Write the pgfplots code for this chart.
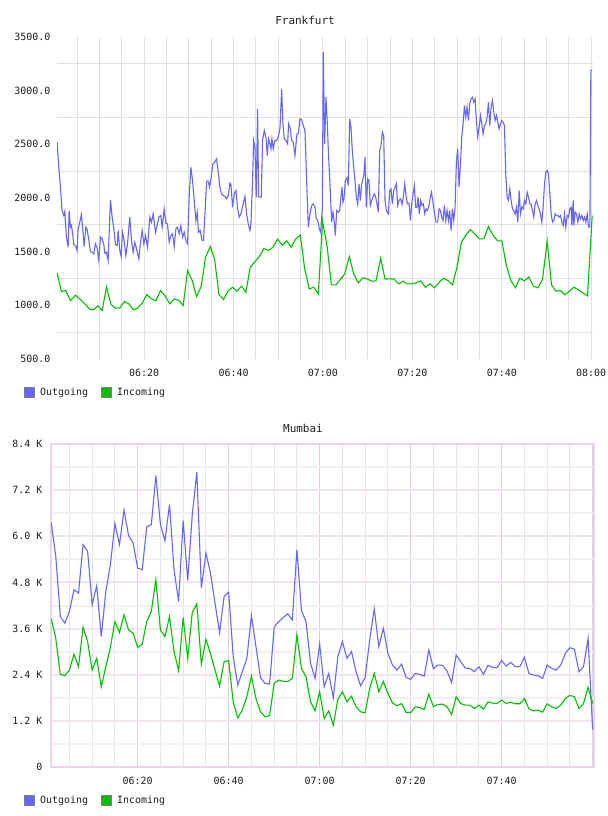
\documentclass[border=0pt]{standalone}
\usepackage{pgfplots}
\pgfplotsset{compat=1.18}
\usepackage{fontspec}
\setmainfont{DejaVu Sans Mono}
\definecolor{outc}{RGB}{102,102,255}
\definecolor{inc}{RGB}{0,192,0}
\definecolor{fgrid}{RGB}{224,224,224}
\definecolor{mframe}{RGB}{232,214,232}
\definecolor{mmajorh}{RGB}{240,228,240}
\definecolor{mmajorv}{RGB}{226,204,226}
\definecolor{mminorh}{RGB}{243,240,243}
\definecolor{mminorv}{RGB}{234,226,234}
\definecolor{txt}{RGB}{30,30,30}
\pgfplotsset{
  common/.style={
    scale only axis,
    tick style={draw=none},
    major tick length=0pt, minor tick length=0pt,
    ticklabel style={font=\fontsize{10}{12}\selectfont, text=txt},
    xticklabel style={anchor=center, yshift=-14bp},
    yticklabel style={anchor=east},
    legend style={draw=none, fill=none, legend columns=2, inner sep=0pt,
      font=\fontsize{10}{12}\selectfont, text=txt,
      /tikz/every even column/.append style={column sep=11bp}},
    legend image code/.code={\draw[draw=gray, fill, line width=0.8bp] (0bp,-5bp) rectangle (10bp,5bp); \path (13bp,0bp);},
    clip=true,
  }
}
\begin{document}
\begin{tikzpicture}
\useasboundingbox (0,0) rectangle (608bp,-816bp);
% ---------------- Frankfurt ----------------
\begin{axis}[common,
  at={(57bp,-37bp)}, anchor=north west,
  width=536bp, height=322bp,
  xmin=0.5, xmax=120.4, ymin=500, ymax=3500,
  axis line style={draw=none},
  xtick={20,40,60,80,100,120},
  xticklabels={06:20,06:40,07:00,07:20,07:40,08:00},
  minor xtick={5,10,...,120},
  ytick={500,1000,...,3500},
  yticklabels={500.0,1000.0,1500.0,2000.0,2500.0,3000.0,3500.0},
  minor ytick={750,1250,...,3250},
  xmajorgrids, xminorgrids, yminorgrids,
  major grid style={draw=fgrid, line width=1bp},
  minor grid style={draw=fgrid, line width=1bp},
  yticklabel style={xshift=-3bp},
  title={Frankfurt},
  every axis title/.style={at={(axis description cs:0.4627,1.0528)}, anchor=center, font=\fontsize{11}{13}\selectfont, text=txt},
  legend style={at={(axis description cs:-0.0616,-0.1025)}, anchor=west},
]
\addplot[outc, line width=1.1bp] coordinates {
(0.52,2526)(0.90,2287)(1.27,2101)(1.64,1883)(2.01,1837)(2.24,1874)(2.61,1635)(2.99,1542)(3.21,1883)(3.51,1728)
(3.73,1743)(3.96,1681)(4.25,1567)(4.63,1557)(5.00,1511)(5.22,1712)(5.60,1775)(5.97,1846)(6.34,1666)(6.57,1548)
(6.94,1728)(7.24,1706)(7.69,1588)(7.99,1501)(8.36,1495)(8.73,1480)(9.10,1573)(9.48,1535)(9.85,1417)(10.22,1635)
(10.60,1619)(10.97,1567)(11.19,1486)(11.57,1495)(11.94,1417)(12.46,1983)(12.84,1821)(13.21,1712)(13.58,1567)(13.96,1557)
(14.18,1697)(14.55,1511)(14.85,1455)(15.15,1681)(15.52,1604)(15.90,1464)(16.27,1573)(16.79,1821)(17.16,1604)(17.54,1495)
(17.91,1588)(18.28,1526)(18.81,1433)(19.18,1588)(19.55,1697)(19.93,1573)(20.30,1650)(20.75,1542)(21.27,1821)(21.64,1775)
(22.01,1852)(22.54,1681)(22.91,1743)(23.28,1821)(23.73,1837)(24.03,1728)(24.48,1899)(24.85,1765)(25.22,1759)(25.60,1588)
(25.97,1650)(26.34,1666)(26.72,1548)(27.09,1712)(27.46,1728)(27.84,1666)(28.21,1743)(28.58,1635)(28.96,1681)(29.33,1604)
(29.70,1573)(30.07,2008)(30.45,2287)(30.82,2163)(31.19,1977)(31.57,1790)(31.87,1868)(32.16,1681)(32.54,1697)(32.91,1610)
(33.28,1604)(33.66,1899)(33.96,2157)(34.33,2157)(34.63,2101)(35.00,2194)(35.37,2318)(35.75,2334)(36.19,2365)(36.57,2241)
(36.94,2101)(37.31,2039)(37.69,2023)(38.06,2014)(38.43,1992)(38.81,2023)(39.18,2138)(39.40,2126)(39.78,1914)(40.15,2039)
(40.52,2070)(40.90,1899)(41.27,1821)(41.64,1852)(42.01,1921)(42.54,2014)(42.91,1852)(43.28,1759)(43.66,1697)(43.88,1759)
(44.25,2163)(44.48,2536)(44.78,2474)(45.07,2008)(45.37,2831)(45.60,2008)(45.90,2008)(46.19,2008)(46.49,2536)(46.87,2629)
(47.24,2567)(47.54,2396)(47.84,2551)(48.13,2505)(48.36,2458)(48.58,2551)(48.88,2458)(49.25,2536)(49.63,2536)(50.00,2567)
(50.37,2644)(50.75,3017)(51.04,2691)(51.34,2551)(51.72,2536)(52.09,2505)(52.31,2691)(52.69,2644)(52.99,2536)(53.36,2520)
(53.73,2396)(54.18,2598)(54.48,2598)(54.85,2737)(55.22,2731)(55.60,2675)(55.97,2629)(56.34,2163)(56.72,1728)(57.09,1852)
(57.46,1930)(57.84,1945)(58.21,1914)(58.51,1806)(58.81,1796)(59.18,1712)(59.48,1681)(59.85,1900)(60.07,3359)(60.37,2505)
(60.67,2939)(60.97,2691)(61.26,2380)(61.56,2132)(61.94,1775)(62.24,1868)(62.53,1775)(62.76,1650)(63.06,1883)(63.43,1868)
(63.73,1883)(64.03,2008)(64.25,2101)(64.47,1961)(64.70,1992)(65.00,2163)(65.37,2188)(65.67,2116)(65.97,2737)(66.26,2660)
(66.56,2442)(66.86,2287)(67.16,2163)(67.46,2008)(67.76,1945)(68.06,2132)(68.35,1977)(68.65,2132)(68.88,2163)(69.18,2225)
(69.40,2380)(69.70,1914)(70.00,2178)(70.29,2163)(70.59,1930)(70.89,1977)(71.19,2008)(71.49,2039)(71.79,2008)(72.09,1945)
(72.38,1868)(72.68,2442)(72.98,2489)(73.28,2613)(73.58,2582)(73.88,1977)(74.18,1883)(74.62,1852)(74.92,2070)(75.22,2085)
(75.52,1945)(75.82,2070)(76.12,2101)(76.41,2132)(76.71,1930)(77.01,1977)(77.38,1992)(77.68,1939)(77.98,2008)(78.28,2132)
(78.58,2023)(78.88,1945)(79.25,1952)(79.55,1790)(79.85,1945)(80.15,2039)(80.44,2116)(80.74,1914)(81.04,1914)(81.26,2008)
(81.56,1852)(81.86,1977)(82.16,1930)(82.46,1945)(82.76,1852)(83.06,1899)(83.35,1883)(83.65,1914)(83.95,1992)(84.25,2054)
(84.55,1977)(84.85,1883)(85.29,1775)(85.67,1775)(85.97,1899)(86.27,1883)(86.56,1821)(86.86,1790)(87.16,1930)(87.46,1790)
(87.76,1883)(88.06,1790)(88.35,1883)(88.65,1697)(88.95,1899)(89.25,1790)(89.55,1914)(89.85,2349)(90.15,2458)(90.44,2101)
(90.74,2303)(91.04,2567)(91.34,2691)(91.64,2862)(91.94,2753)(92.24,2846)(92.53,2722)(92.83,2877)(93.13,2924)(93.43,2939)
(93.73,2893)(94.03,2924)(94.32,2722)(94.62,2567)(94.92,2660)(95.22,2769)(95.52,2691)(95.82,2598)(96.12,2675)(96.41,2691)
(96.71,2753)(97.01,2893)(97.31,2675)(97.61,2846)(97.91,2908)(98.21,2800)(98.50,2722)(98.80,2769)(99.10,2706)(99.40,2644)
(99.70,2691)(100.00,2722)(100.29,2706)(100.59,2675)(100.89,2225)(101.19,2008)(101.49,1977)(101.79,2085)(102.09,1977)(102.38,1899)
(102.68,1883)(102.98,1852)(103.28,1914)(103.58,1775)(103.88,2070)(104.18,1852)(104.47,1914)(104.77,1899)(105.07,1977)(105.37,1945)
(105.67,2054)(105.97,2008)(106.26,1945)(106.56,1945)(106.86,1883)(107.16,1821)(107.46,1945)(107.76,1977)(108.06,1930)(108.35,1899)
(108.65,1852)(108.95,1775)(109.25,1914)(109.55,2132)(109.85,2241)(110.15,2256)(110.44,2225)(110.74,2039)(111.04,1852)(111.34,1775)
(111.64,1790)(111.94,1852)(112.24,1837)(112.53,1837)(112.83,1821)(113.13,1837)(113.43,1775)(113.73,1743)(114.03,1852)(114.32,1728)
(114.62,1837)(114.92,1821)(115.22,1899)(115.52,1914)(115.67,1743)(115.97,1977)(116.12,1743)(116.41,1868)(116.71,1852)(117.01,1775)
(117.31,1852)(117.61,1806)(117.91,1837)(118.20,1790)(118.50,1821)(118.80,1775)(119.10,1852)(119.40,1728)(119.70,1728)(119.92,3188)
(120.22,3194)
};
\addlegendentry{Outgoing}
\addplot[inc, line width=1.1bp] coordinates {
(0.52,1303)(1.49,1129)(2.46,1138)(3.51,1045)(4.63,1094)(5.60,1060)(6.72,1014)(7.84,964)(8.66,958)(9.63,995)
(10.60,952)(11.57,1169)(12.61,1007)(13.58,973)(14.55,976)(15.60,1035)(16.57,1014)(17.61,958)(18.51,973)(19.55,1020)
(20.60,1101)(21.64,1060)(22.61,1042)(23.66,1138)(24.63,1091)(25.75,1014)(26.72,1060)(27.76,1045)(28.73,998)(29.70,1324)
(30.75,1231)(31.72,1082)(32.76,1175)(33.73,1449)(34.78,1548)(35.75,1433)(36.72,1101)(37.76,1054)(38.73,1132)(39.78,1169)
(40.75,1132)(41.79,1178)(42.76,1122)(43.73,1355)(44.78,1408)(45.75,1455)(46.79,1529)(47.84,1511)(48.81,1542)(49.85,1616)
(50.90,1560)(51.87,1601)(52.91,1542)(53.88,1616)(54.93,1654)(55.90,1340)(56.94,1153)(57.91,1169)(58.96,1107)(59.90,1785)
(60.90,1557)(61.87,1191)(62.90,1191)(63.88,1240)(64.85,1293)(65.90,1455)(66.87,1293)(67.91,1209)(68.88,1256)(69.85,1247)
(70.90,1225)(71.87,1228)(72.91,1439)(73.88,1244)(74.93,1247)(75.90,1244)(76.94,1200)(77.91,1225)(78.88,1200)(79.93,1200)
(80.90,1212)(81.87,1228)(82.91,1169)(83.88,1200)(84.93,1163)(85.90,1209)(86.94,1253)(87.91,1231)(88.96,1191)(89.93,1346)
(90.97,1588)(92.01,1657)(92.99,1706)(93.96,1666)(95.00,1619)(95.97,1619)(97.01,1734)(97.99,1657)(99.03,1601)(100.00,1601)
(101.04,1371)(102.01,1231)(103.06,1163)(104.03,1253)(105.07,1228)(106.04,1265)(107.09,1178)(108.06,1163)(109.10,1240)(110.15,1598)
(111.12,1191)(112.09,1132)(113.13,1138)(114.10,1098)(115.15,1132)(116.12,1169)(117.16,1144)(118.13,1116)(119.18,1088)(120.22,1837)
};
\addlegendentry{Incoming}
\end{axis}
% ---------------- Mumbai ----------------
\begin{axis}[common,
  at={(51bp,-444bp)}, anchor=north west,
  width=543bp, height=323bp,
  xmin=0.95, xmax=120.3, ymin=0, ymax=8400,
  axis line style={draw=mframe, line width=1.2bp},
  xtick={20,40,60,80,100,120},
  xticklabels={06:20,06:40,07:00,07:20,07:40,},
  minor xtick={5,10,15,25,30,35,45,50,55,65,70,75,85,90,95,105,110,115},
  ytick={0,1200,...,8400},
  yticklabels={0,1.2 K,2.4 K,3.6 K,4.8 K,6.0 K,7.2 K,8.4 K},
  minor ytick={600,1800,...,7800},
  xmajorgrids, xminorgrids, ymajorgrids, yminorgrids,
  x grid style={draw=mmajorv, line width=1bp},
  y grid style={draw=mmajorh, line width=2bp},
  minor x grid style={draw=mminorv, line width=1bp},
  minor y grid style={draw=mminorh, line width=2bp},
  yticklabel style={xshift=-5bp},
  title={Mumbai},
  every axis title/.style={at={(axis description cs:0.464,1.0495)}, anchor=center, font=\fontsize{11}{13}\selectfont, text=txt},
  legend style={at={(axis description cs:-0.0497,-0.1022)}, anchor=west},
]
\addplot[outc, line width=1.1bp] coordinates {
(1,6348)(2,5478)(3,3913)(4,3739)(5,4044)(6,4609)(7,4522)(8,5783)(9,5609)(10,4218)
(11,4713)(12,3391)(13,4565)(14,5261)(15,6331)(16,5783)(17,6679)(18,6018)(19,5826)(20,5174)
(21,5131)(22,6244)(23,6305)(24,7583)(25,6305)(26,5887)(27,6826)(28,5131)(29,4305)(30,6409)
(31,4852)(32,6565)(33,7670)(34,4652)(35,5565)(36,5044)(37,4261)(38,3496)(39,4435)(40,4548)
(41,2870)(42,2131)(43,2478)(44,2826)(45,3939)(46,3131)(47,2322)(48,2174)(49,2157)(50,3635)
(51,3783)(52,3887)(53,3983)(54,3826)(55,5652)(56,4070)(57,3783)(58,2696)(59,2304)(60,3200)
(61,2087)(62,2435)(63,1800)(64,2870)(65,3261)(66,2826)(67,3000)(68,2478)(69,2113)(70,2322)
(71,3304)(72,4113)(73,3131)(74,3609)(75,2957)(76,2652)(77,2522)(78,2678)(79,2331)(80,2278)
(81,2435)(82,2409)(83,2365)(84,3044)(85,2557)(86,2652)(87,2644)(88,2496)(89,2200)(90,2913)
(91,2739)(92,2574)(93,2565)(94,2478)(95,2609)(96,2409)(97,2644)(98,2591)(99,2583)(100,2774)
(101,2626)(102,2722)(103,2609)(104,2609)(105,2852)(106,2435)(107,2391)(108,2374)(109,2304)(110,2652)
(111,2565)(112,2522)(113,2652)(114,2957)(115,3104)(116,3061)(117,2478)(118,2609)(119,3348)(120,974)
};
\addlegendentry{Outgoing}
\addplot[inc, line width=1.1bp] coordinates {
(1,3852)(2,3348)(3,2409)(4,2374)(5,2522)(6,2931)(7,2609)(8,3635)(9,3261)(10,2522)
(11,2826)(12,2087)(13,2609)(14,3113)(15,3783)(16,3496)(17,3957)(18,3565)(19,3478)(20,3113)
(21,3191)(22,3783)(23,4044)(24,4870)(25,3565)(26,3391)(27,3913)(28,3000)(29,2504)(30,3887)
(31,2826)(32,4018)(33,4244)(34,2678)(35,3322)(36,2957)(37,2522)(38,2104)(39,2739)(40,2765)
(41,1696)(42,1278)(43,1478)(44,1826)(45,2365)(46,1783)(47,1435)(48,1304)(49,1339)(50,2174)
(51,2261)(52,2226)(53,2226)(54,2304)(55,3435)(56,2565)(57,2348)(58,1696)(59,1461)(60,1957)
(61,1261)(62,1461)(63,1087)(64,1757)(65,1957)(66,1696)(67,1843)(68,1565)(69,1435)(70,1409)
(71,2044)(72,2435)(73,1957)(74,2226)(75,1913)(76,1670)(77,1591)(78,1652)(79,1417)(80,1417)
(81,1565)(82,1548)(83,1496)(84,1896)(85,1565)(86,1626)(87,1635)(88,1565)(89,1365)(90,1826)
(91,1652)(92,1609)(93,1609)(94,1522)(95,1609)(96,1504)(97,1696)(98,1661)(99,1652)(100,1739)
(101,1652)(102,1687)(103,1644)(104,1644)(105,1783)(106,1513)(107,1461)(108,1478)(109,1426)(110,1644)
(111,1565)(112,1522)(113,1609)(114,1783)(115,1861)(116,1826)(117,1522)(118,1652)(119,2070)(120,1652)
};
\addlegendentry{Incoming}
\end{axis}
\end{tikzpicture}
\end{document}
